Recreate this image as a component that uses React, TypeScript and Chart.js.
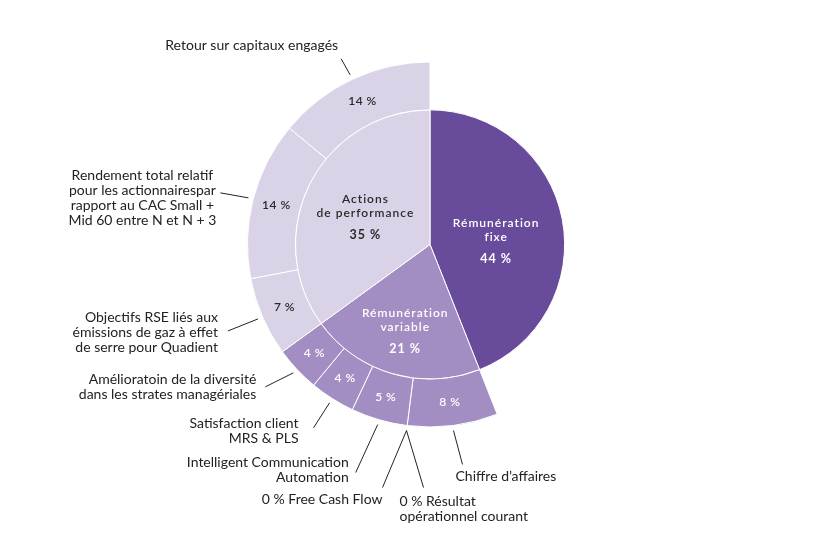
import React, { useEffect, useRef } from "react";
import { Chart, registerables } from "chart.js";
Chart.register(...registerables);

// ---- data ----
const innerCategories = ["Rémunération fixe", "Rémunération variable", "Actions de performance"];
const innerTitleLines = [["Rémunération", "fixe"], ["Rémunération", "variable"], ["Actions", "de performance"]];
const innerValues = [44, 21, 35];

const outerParent = [0, 1, 1, 1, 1, 1, 1, 2, 2, 2];
const outerValues = [44, 8, 0, 0, 5, 4, 4, 7, 14, 14];
const outerLabelLines = [
  [],
  ["Chiffre d’affaires"],
  ["0 % Résultat", "opérationnel courant"],
  ["0 % Free Cash Flow"],
  ["Intelligent Communication", "Automation"],
  ["Satisfaction client", "MRS & PLS"],
  ["Amélioratoin de la diversité", "dans les strates managériales"],
  ["Objectifs RSE liés aux", "émissions de gaz à effet", "de serre pour Quadient"],
  ["Rendement total relatif", "pour les actionnairespar", "rapport au CAC Small +", "Mid 60 entre N et N + 3"],
  ["Retour sur capitaux engagés"],
];

// ---- styles / layout ----
const parentColors = ["#694B9C", "#A28EC3", "#DAD3E7"];
const parentTextColors = ["#ffffff", "#ffffff", "#2a2a2a"];
const FONT = "Lato, 'Noto Sans', sans-serif";
const innerLabelLayout = [
  { rf: 0.5, dx: 0, dy: 9 },
  { rf: 0.66, dx: 0, dy: 1 },
  { rf: 0.53, dx: -1, dy: 5 },
];
type LL = { ldx: number; ldy: number; tdx: number; tdy: number; align: CanvasTextAlign } | null;
const outerLabelLayout: LL[] = [
  null,
  { ldx: 9, ldy: 34, tdx: -7, tdy: 12, align: "left" },
  { ldx: 17, ldy: 57, tdx: -24, tdy: 21.5, align: "left" },
  { ldx: -24, ldy: 57, tdx: 0, tdy: 12, align: "right" },
  { ldx: -22, ldy: 48, tdx: -7, tdy: -3, align: "right" },
  { ldx: -16, ldy: 25, tdx: -15, tdy: 3.5, align: "right" },
  { ldx: -28, ldy: 14, tdx: -9, tdy: 0, align: "right" },
  { ldx: -30, ldy: 12, tdx: -10, tdy: 2, align: "right" },
  { ldx: -28, ldy: -5, tdx: -78, tdy: 5.5, align: "center" },
  { ldx: -9, ldy: -16, tdx: -3, tdy: -13, align: "right" },
];

const labelPlugin = {
  id: "sunLabels",
  afterDatasetsDraw(chart: any) {
    const ctx: CanvasRenderingContext2D = chart.ctx;
    const outerMeta = chart.getDatasetMeta(0);
    const innerMeta = chart.getDatasetMeta(1);
    ctx.save();
    ctx.textBaseline = "middle";

    // inner labels
    innerMeta.data.forEach((arc: any, i: number) => {
      const mid = (arc.startAngle + arc.endAngle) / 2;
      const lay = innerLabelLayout[i];
      const r = arc.outerRadius * lay.rf;
      const cx = arc.x + Math.cos(mid) * r + lay.dx;
      const cy = arc.y + Math.sin(mid) * r + lay.dy;
      const titles = innerTitleLines[i];
      const total = (titles.length - 1) * 14 + 22;
      const y0 = cy - total / 2;
      ctx.fillStyle = parentTextColors[i];
      ctx.textAlign = "center";
      (ctx as any).letterSpacing = "1px";
      ctx.font = `600 12px ${FONT}`;
      titles.forEach((t, k) => ctx.fillText(t, cx, y0 + k * 14));
      ctx.font = `700 12.5px ${FONT}`;
      ctx.fillText(`${innerValues[i]} %`, cx, y0 + total);
    });

    // outer ring values + callouts
    outerMeta.data.forEach((arc: any, i: number) => {
      const lay = outerLabelLayout[i];
      if (!lay) return;
      const mid = (arc.startAngle + arc.endAngle) / 2;
      const v = outerValues[i];
      if (v > 0) {
        const r = (arc.innerRadius + arc.outerRadius) / 2;
        ctx.fillStyle = parentTextColors[outerParent[i]];
        ctx.textAlign = "center";
        (ctx as any).letterSpacing = "0.5px";
        ctx.font = `600 12px ${FONT}`;
        ctx.fillText(`${v} %`, arc.x + Math.cos(mid) * r, arc.y + Math.sin(mid) * r);
      }
      const rs = arc.outerRadius + 5;
      const sx = arc.x + Math.cos(mid) * rs;
      const sy = arc.y + Math.sin(mid) * rs;
      const ex = sx + lay.ldx;
      const ey = sy + lay.ldy;
      ctx.strokeStyle = "#222";
      ctx.lineWidth = 1;
      ctx.beginPath();
      ctx.moveTo(sx, sy);
      ctx.lineTo(ex, ey);
      ctx.stroke();
      const lines = outerLabelLines[i];
      const lh = 15;
      const tx = ex + lay.tdx;
      const ty0 = ey + lay.tdy - ((lines.length - 1) * lh) / 2;
      ctx.fillStyle = "#222";
      ctx.textAlign = lay.align;
      (ctx as any).letterSpacing = "0px";
      ctx.font = `400 14px ${FONT}`;
      lines.forEach((t, k) => ctx.fillText(t, tx, ty0 + k * lh));
    });
    ctx.restore();
  },
};

export default function App() {
  const ref = useRef<HTMLCanvasElement>(null);
  useEffect(() => {
    if (!ref.current) return;
    const outerColors = outerValues.map((_, i) => (i === 0 ? "rgba(0,0,0,0)" : parentColors[outerParent[i]]));
    const outerBorders = outerValues.map((_, i) => (i === 0 ? "rgba(0,0,0,0)" : "#ffffff"));
    const chart = new Chart(ref.current, {
      type: "doughnut",
      data: {
        labels: outerValues.map((_, i) => String(i)),
        datasets: [
          {
            data: outerValues,
            backgroundColor: outerColors,
            borderColor: outerBorders,
            borderWidth: outerValues.map((_, i) => (i === 0 ? 0 : 1)),
            weight: 48,
            hoverOffset: 0,
            offset: 0,
          } as any,
          {
            data: innerValues,
            backgroundColor: parentColors,
            borderColor: "#ffffff",
            borderWidth: 1,
            weight: 135,
            hoverOffset: 0,
            offset: 0,
            labels: innerCategories,
          } as any,
        ],
      },
      options: {
        responsive: false,
        animation: false,
        cutout: 0,
        layout: { padding: { top: 61, bottom: 122, left: 247, right: 216 } },
        plugins: { legend: { display: false }, tooltip: { enabled: false } },
        events: [],
      } as any,
      plugins: [labelPlugin],
    });
    return () => chart.destroy();
  }, []);
  return (
    <div style={{ position: "absolute", left: 0, top: 0, width: 829, height: 550, background: "#fff" }}>
      <canvas ref={ref} width={829} height={550} />
    </div>
  );
}
